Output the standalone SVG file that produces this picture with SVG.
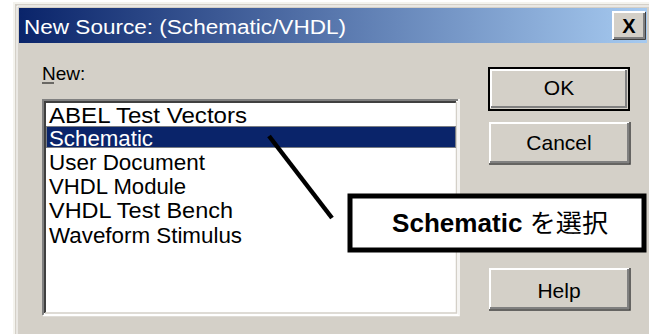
<svg xmlns="http://www.w3.org/2000/svg" width="649" height="334" viewBox="0 0 649 334">
<defs>
<linearGradient id="tb" x1="0" y1="0" x2="1" y2="0">
<stop offset="0" stop-color="#0a246a"/>
<stop offset="1" stop-color="#a6caf0"/>
</linearGradient>
</defs>
<style>
.ui{font-family:"Liberation Sans",Arial,sans-serif;fill:#000}
.item{font-size:22px}
.btn{font-size:21px;text-anchor:middle}
.hi{stroke:#ffffff;stroke-width:2;fill:none}
.sh{stroke:#808080;stroke-width:2;fill:none}
.dk{stroke:#404040;stroke-width:2;fill:none}
</style>
<rect x="0" y="0" width="649" height="334" fill="#ffffff"/>
<g id="window">
<rect x="13" y="2" width="640" height="340" fill="#d4d0c8"/>
<path d="M14 334 V3 H649" stroke="#f4f3ee" stroke-width="2" fill="none"/>
<path d="M17 334 V6 H649" stroke="#ffffff" stroke-width="1" fill="none"/>
</g>
<g id="titlebar">
<rect x="19" y="8" width="628" height="35" fill="url(#tb)"/>
<text class="ui" x="24" y="34" font-size="20" style="fill:#ffffff" textLength="322" lengthAdjust="spacingAndGlyphs">New Source: (Schematic/VHDL)</text>
</g>
<g id="close-button">
<rect x="613" y="12" width="32" height="27" fill="#d4d0c8"/>
<path d="M613 39 V12 H645" class="hi"/>
<path d="M614 38 H644 V13" class="sh"/>
<path d="M613 39.5 H645.5 V12" stroke="#404040" stroke-width="1" fill="none"/>
<text class="ui" x="629" y="33" font-size="20" font-weight="bold" text-anchor="middle">X</text>
</g>
<g id="new-label">
<text class="ui" x="42" y="80" font-size="19">New:</text>
<line x1="42" y1="83" x2="54" y2="83" stroke="#000" stroke-width="1"/>
</g>
<g id="listbox">
<rect x="42" y="99" width="416" height="216" fill="#ffffff"/>
<path d="M43 315 V100 H458" class="sh"/>
<path d="M45 313 V102 H456" class="dk"/>
<path d="M43 315.5 H459 V99" stroke="#ffffff" stroke-width="1.5" fill="none"/>
<path d="M45 313 H456.5 V102" stroke="#d4d0c8" stroke-width="1.5" fill="none"/>
<rect x="46" y="126" width="410" height="22" fill="#0a246a"/>
<rect x="46.5" y="126.5" width="409" height="21" fill="none" stroke="#e8d79c" stroke-width="1" stroke-dasharray="1 1"/>
<text class="ui item" x="49" y="123" textLength="198" lengthAdjust="spacingAndGlyphs">ABEL Test Vectors</text>
<text class="ui item" x="49" y="146" style="fill:#ffffff" textLength="104" lengthAdjust="spacingAndGlyphs">Schematic</text>
<text class="ui item" x="49" y="170" textLength="156" lengthAdjust="spacingAndGlyphs">User Document</text>
<text class="ui item" x="49" y="194" textLength="137" lengthAdjust="spacingAndGlyphs">VHDL Module</text>
<text class="ui item" x="49" y="218" textLength="184" lengthAdjust="spacingAndGlyphs">VHDL Test Bench</text>
<text class="ui item" x="49" y="243" textLength="193" lengthAdjust="spacingAndGlyphs">Waveform Stimulus</text>
</g>
<g id="ok-button">
<rect x="489" y="68" width="140" height="42" fill="#d4d0c8" stroke="#000" stroke-width="2"/>
<path d="M491 108 V70 H627" class="hi"/>
<path d="M491 107 H626 V70" class="sh"/>
<text class="ui btn" x="559" y="95">OK</text>
</g>
<g id="cancel-button">
<rect x="489" y="122" width="141" height="42" fill="#d4d0c8"/>
<path d="M490 163 V123 H629" class="hi"/>
<path d="M490 162 H628 V123" class="sh"/>
<path d="M489 164 H630 V122" stroke="#404040" stroke-width="1.5" fill="none"/>
<text class="ui btn" x="559" y="150">Cancel</text>
</g>
<g id="help-button">
<rect x="489" y="268" width="141" height="42" fill="#d4d0c8"/>
<path d="M490 309 V269 H629" class="hi"/>
<path d="M490 308 H628 V269" class="sh"/>
<path d="M489 310 H630 V268" stroke="#404040" stroke-width="1.5" fill="none"/>
<text class="ui btn" x="559" y="298">Help</text>
</g>
<g id="connectors">
<line x1="269" y1="136" x2="332" y2="218" stroke="#000" stroke-width="4.5"/>
</g>
<g id="callout">
<rect x="350" y="196" width="294" height="54" fill="#ffffff" stroke="#000" stroke-width="5"/>
<text x="392" y="232" font-size="25" style="font-family:'Liberation Sans','Noto Sans CJK JP',sans-serif" fill="#000" textLength="216" lengthAdjust="spacingAndGlyphs"><tspan font-weight="bold">Schematic</tspan> を選択</text>
</g>
</svg>
